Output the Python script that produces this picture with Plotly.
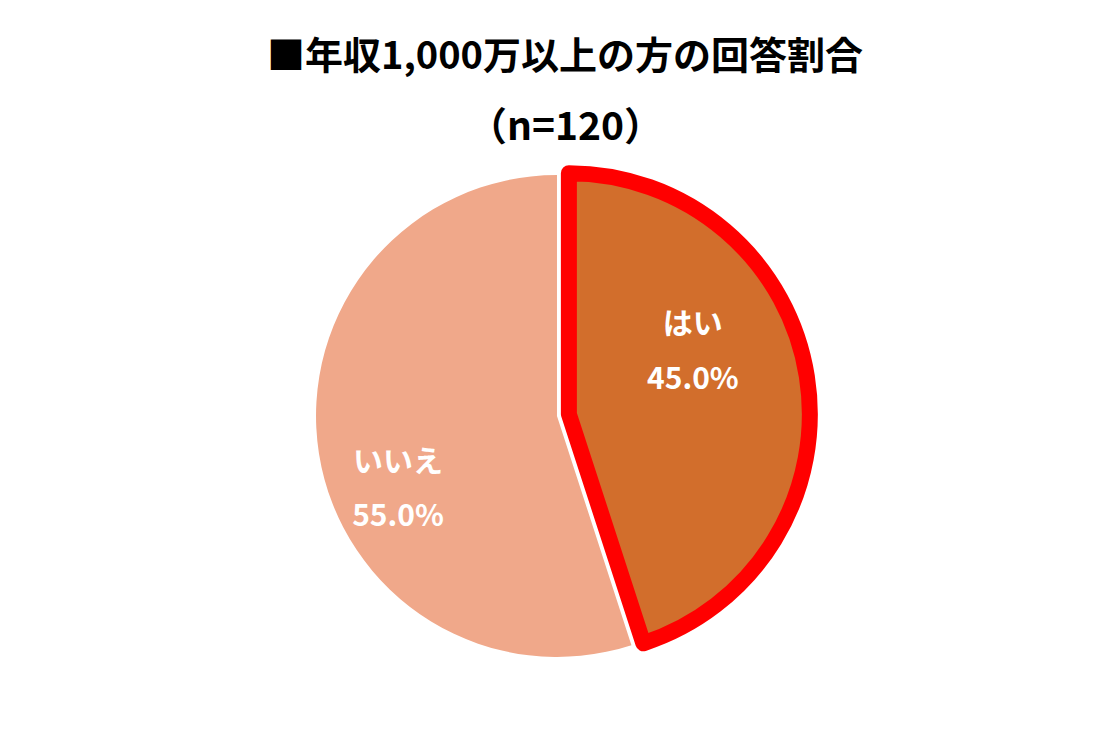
import plotly.graph_objects as go

labels = ["はい", "いいえ"]
values = [45.0, 55.0]
colors = ["#D26E2C", "#F0A88A"]
border_colors = ["#FF0000", "rgba(0,0,0,0)"]
border_widths = [16, 0]
pulls = [0.05, 0]

title_line1 = "■年収1,000万以上の方の回答割合"
title_line2 = "（n=120）"

FONT = "Noto Sans CJK JP"
LABEL_SIZE = 30
LINE_BASE = 21
DOMAIN = dict(x=[0, 0.9856], y=[0.1245, 0.7947])
LABEL_DOMAIN = dict(x=[0, 0.9551], y=[0.1192, 0.7894])

# main pie (slices)
fig = go.Figure(go.Pie(
    labels=labels,
    values=values,
    sort=False,
    direction="clockwise",
    rotation=0,
    pull=pulls,
    marker=dict(colors=colors, line=dict(color=border_colors, width=border_widths)),
    textinfo="none",
    hoverinfo="label+percent",
    showlegend=False,
    domain=DOMAIN,
))

# transparent overlay of the same data, carrying the inside labels
span = "<span style='font-size:" + str(LABEL_SIZE) + "px'><b>{}</b></span>"
fig.add_trace(go.Pie(
    labels=labels,
    values=values,
    sort=False,
    direction="clockwise",
    rotation=-16,
    pull=pulls,
    hole=0.3,
    marker=dict(colors=["rgba(0,0,0,0)"] * len(labels), line=dict(width=0)),
    texttemplate=span.format("%{label}") + "<br>&nbsp;<br>" + span.format("%{percent:.1%}"),
    textposition="inside",
    insidetextorientation="horizontal",
    textfont=dict(family=FONT, size=LINE_BASE, color="white"),
    hoverinfo="skip",
    showlegend=False,
    domain=LABEL_DOMAIN,
))

fig.update_layout(
    width=1114, height=755,
    margin=dict(l=0, r=0, t=0, b=0),
    paper_bgcolor="white",
    plot_bgcolor="white",
    showlegend=False,
    annotations=[
        dict(text="<b>" + title_line1 + "</b>", x=0.5, y=1 - 45 / 755, xref="paper", yref="paper",
             xanchor="center", yanchor="middle", showarrow=False,
             font=dict(family=FONT, size=38, color="black")),
        dict(text="<b>" + title_line2 + "</b>", x=0.5, y=1 - 115 / 755, xref="paper", yref="paper",
             xanchor="center", yanchor="middle", showarrow=False,
             font=dict(family=FONT, size=39, color="black")),
    ],
)

fig.write_html("out.html")
